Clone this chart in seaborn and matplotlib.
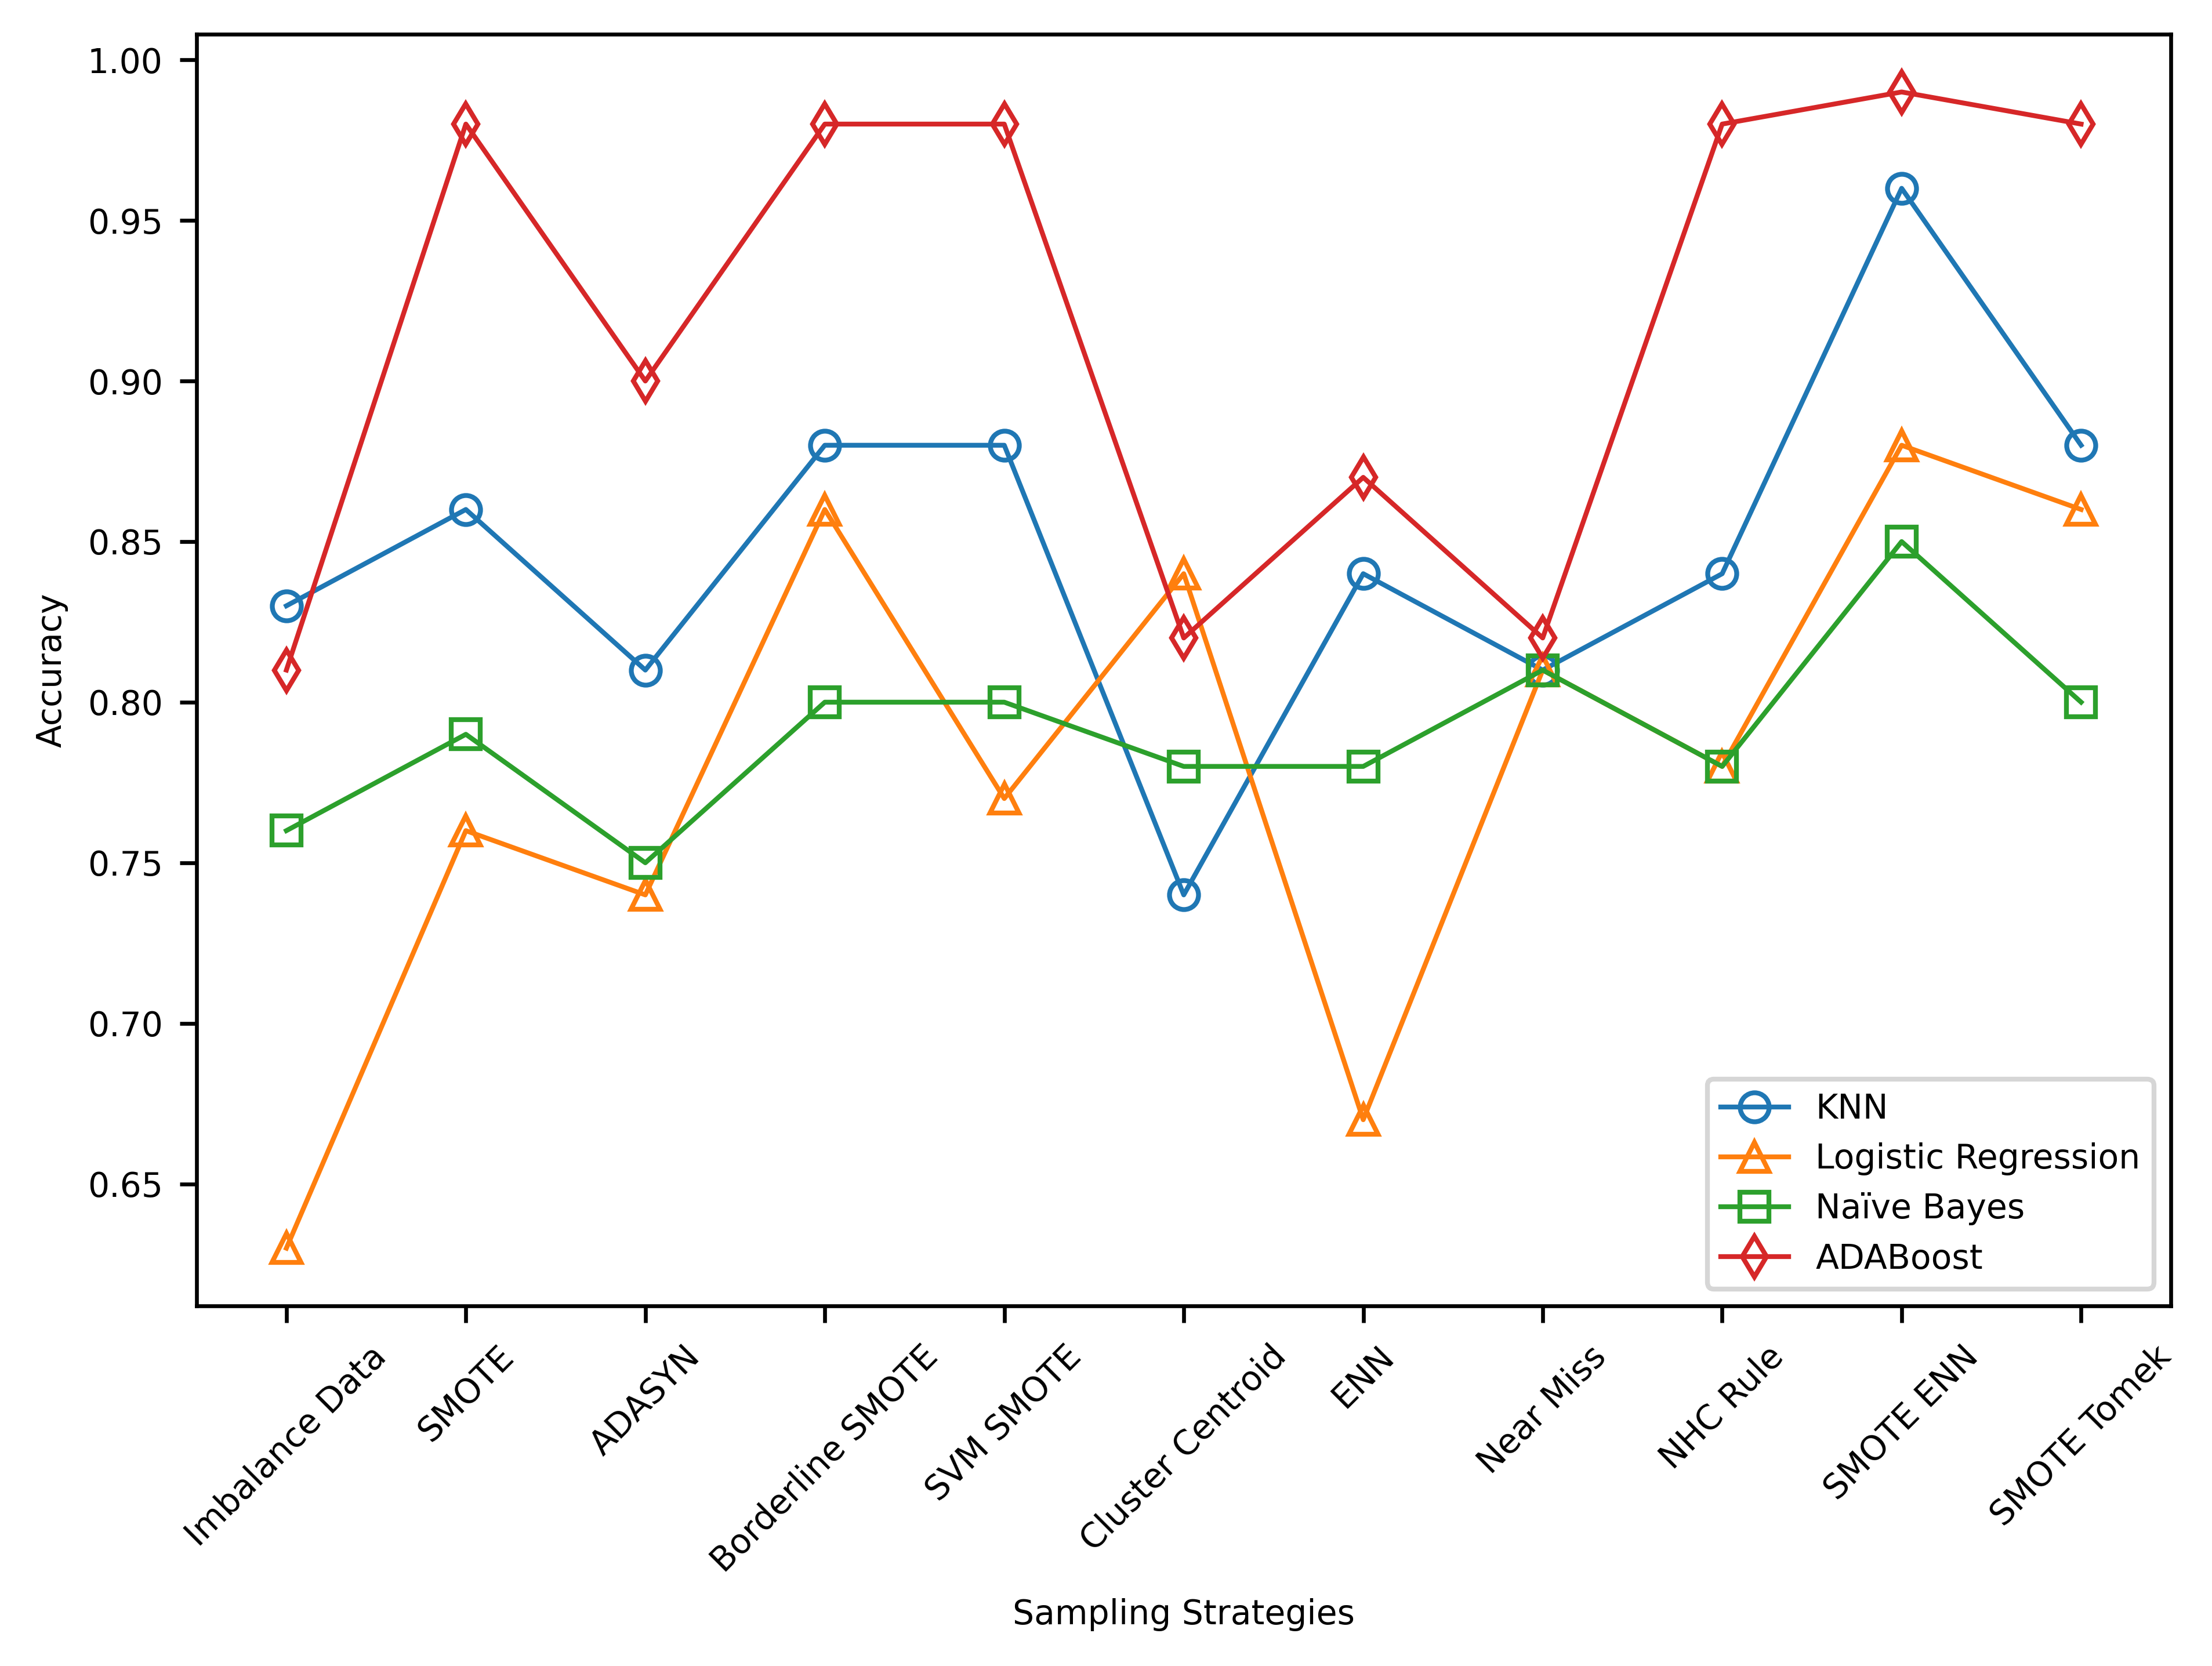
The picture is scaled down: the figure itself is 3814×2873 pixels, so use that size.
import matplotlib
matplotlib.use("Agg")
import matplotlib.pyplot as plt
import seaborn as sns

# Sampling strategies on the x axis
strategies = ["Imbalance Data", "SMOTE", "ADASYN", "Borderline SMOTE", "SVM SMOTE",
              "Cluster Centroid", "ENN", "Near Miss", "NHC Rule", "SMOTE ENN", "SMOTE Tomek"]

# Accuracy per classifier
knn = [0.83, 0.86, 0.81, 0.88, 0.88, 0.74, 0.84, 0.81, 0.84, 0.96, 0.88]
logreg = [0.63, 0.76, 0.74, 0.86, 0.77, 0.84, 0.67, 0.81, 0.78, 0.88, 0.86]
naive_bayes = [0.76, 0.79, 0.75, 0.80, 0.80, 0.78, 0.78, 0.81, 0.78, 0.85, 0.80]
adaboost = [0.81, 0.98, 0.90, 0.98, 0.98, 0.82, 0.87, 0.82, 0.98, 0.99, 0.98]

plt.rcParams['font.family'] = ['DejaVu Sans']
plt.rcParams['font.size'] = 7

fig, ax = plt.subplots(figsize=(3814 / 600, 2873 / 600))

palette = sns.color_palette("tab10")
series = [
    ("KNN", knn, "o"),
    ("Logistic Regression", logreg, "^"),
    ("Naïve Bayes", naive_bayes, "s"),
    ("ADABoost", adaboost, "d"),
]

for i, (name, vals, mk) in enumerate(series):
    sns.lineplot(x=strategies, y=vals, sort=False, ax=ax, label=name,
                 color=palette[i], marker=mk, markersize=6, fillstyle='none',
                 markeredgecolor=palette[i], markeredgewidth=1, linewidth=1)

ax.set_xlabel("Sampling Strategies", fontsize=7)
ax.set_ylabel("Accuracy", fontsize=7)
ax.tick_params(axis='both', labelsize=7)
plt.setp(ax.get_xticklabels(), rotation=45, ha='center')
ax.legend(loc='lower right', fontsize=7)

fig.subplots_adjust(left=0.0889, right=0.9814, top=0.9795, bottom=0.2161)
plt.savefig("out.png", dpi=600)
plt.close()
